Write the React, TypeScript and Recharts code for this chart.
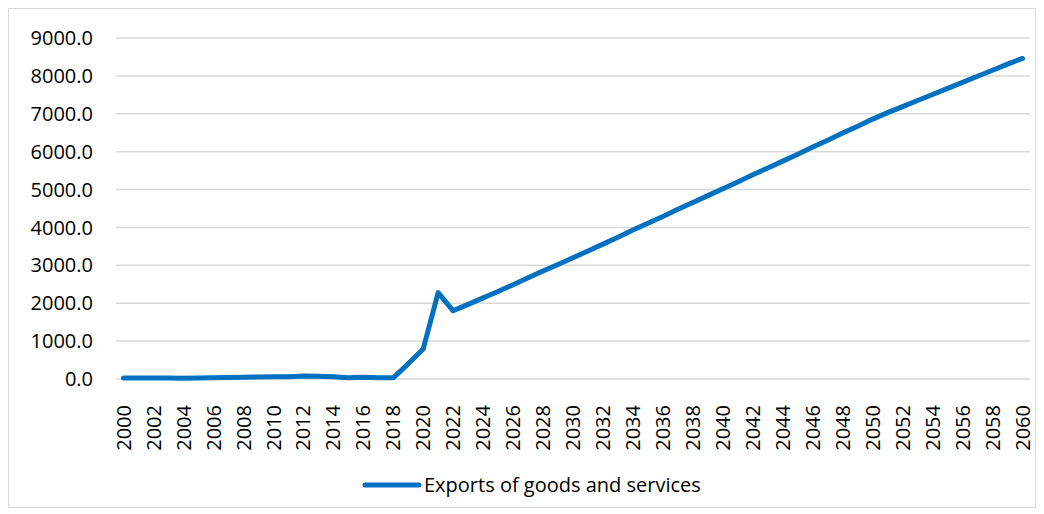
import { LineChart, Line, XAxis, YAxis, CartesianGrid } from 'recharts';

const years = [
    2000, 2001, 2002, 2003, 2004, 2005, 2006, 2007, 2008, 2009,
    2010, 2011, 2012, 2013, 2014, 2015, 2016, 2017, 2018, 2019,
    2020, 2021, 2022, 2023, 2024, 2025, 2026, 2027, 2028, 2029,
    2030, 2031, 2032, 2033, 2034, 2035, 2036, 2037, 2038, 2039,
    2040, 2041, 2042, 2043, 2044, 2045, 2046, 2047, 2048, 2049,
    2050, 2051, 2052, 2053, 2054, 2055, 2056, 2057, 2058, 2059, 2060,
];

const exportsValues = [
    25, 25, 25, 25, 20, 25, 30, 40, 45, 55,
    60, 60, 80, 70, 60, 30, 45, 35, 30, 400,
    790, 2280, 1800, 1970, 2140, 2310, 2490, 2670, 2850, 3020,
    3200, 3380, 3560, 3740, 3930, 4110, 4290, 4480, 4660, 4840,
    5020, 5200, 5390, 5570, 5750, 5930, 6120, 6300, 6490, 6670,
    6860, 7030, 7190, 7350, 7510, 7670, 7830, 7990, 8150, 8310, 8460,
];

const yTicks = [0, 1000, 2000, 3000, 4000, 5000, 6000, 7000, 8000, 9000];

const seriesName = 'Exports of goods and services';
const lineColor = '#0070C0';
const font = '"Open Sans", sans-serif';

const chartData = years.map((year, i) => ({ year, value: exportsValues[i] }));

function YearTick({ x, y, payload }: any) {
    const ty = y + 18;
    return (
        <text
            x={x}
            y={ty}
            transform={`rotate(-90, ${x}, ${ty})`}
            textAnchor="end"
            dy="0.36em"
            fontSize={20}
            fontFamily={font}
            fill="#000"
        >
            {payload.value}
        </text>
    );
}

export default function App() {
    return (
        <div
            style={{
                position: 'relative',
                width: 1026,
                height: 498,
                border: '1px solid #d9d9d9',
                background: '#fff',
            }}
        >
            <LineChart width={1026} height={498} data={chartData} margin={{ top: 29, right: 5, left: 0, bottom: 48 }}>
                <CartesianGrid vertical={false} stroke="#d9d9d9" strokeWidth={1.5} />
                <XAxis
                    dataKey="year"
                    interval={1}
                    padding={{ left: 7.5, right: 7.5 }}
                    axisLine={false}
                    tickLine={false}
                    tick={<YearTick />}
                    height={80}
                />
                <YAxis
                    domain={[0, 9000]}
                    ticks={yTicks}
                    width={107}
                    axisLine={false}
                    tickLine={false}
                    tickSize={0}
                    tickMargin={23}
                    tickFormatter={(v: number) => v.toFixed(1)}
                    tick={{ fontSize: 20, fontFamily: font, fill: '#000' }}
                />
                <Line
                    type="linear"
                    dataKey="value"
                    name={seriesName}
                    stroke={lineColor}
                    strokeWidth={5}
                    strokeLinecap="round"
                    strokeLinejoin="round"
                    dot={false}
                    isAnimationActive={false}
                />
            </LineChart>
            <div
                style={{
                    position: 'absolute',
                    left: 353,
                    top: 462,
                    display: 'flex',
                    alignItems: 'center',
                    fontFamily: font,
                    fontSize: 20,
                    color: '#000',
                    whiteSpace: 'nowrap',
                }}
            >
                <svg width={60} height={10} style={{ marginRight: 2 }}>
                    <line x1={3} y1={5} x2={57} y2={5} stroke={lineColor} strokeWidth={5} strokeLinecap="round" />
                </svg>
                <span>{seriesName}</span>
            </div>
        </div>
    );
}
